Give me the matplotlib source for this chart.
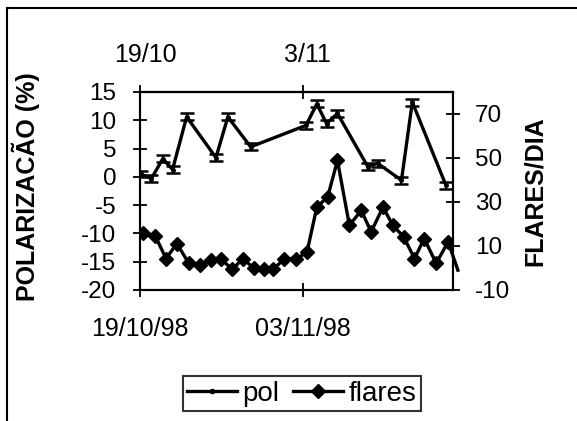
import numpy as np
import matplotlib
matplotlib.use('Agg')
import matplotlib.pyplot as plt
from matplotlib.lines import Line2D
import matplotlib.transforms as mtransforms

plt.rcParams['font.family'] = ['Liberation Sans', 'DejaVu Sans']
plt.rcParams['axes.unicode_minus'] = False

# dias contados a partir de 19/10/98
pol_dia = [0.05, 1.05, 2.1, 3.0, 4.3, 7.0, 8.1, 10.2, 15.3, 16.3, 17.2, 18.2, 21.0, 21.9, 24.1, 25.1, 28.2]
pol = [0.5, -0.3, 3.2, 1.3, 10.6, 3.4, 10.6, 5.3, 9.1, 12.9, 9.4, 11.2, 1.8, 2.4, -0.6, 13.2, -1.5]
pol_err = [0.6] * len(pol)

flares_dia = [0.3, 1.4, 2.4, 3.4, 4.5, 5.5, 6.5, 7.5, 8.5, 9.5, 10.5, 11.4, 12.3, 13.3, 14.4,
              15.4, 16.3, 17.3, 18.2, 19.3, 20.4, 21.3, 22.4, 23.3, 24.3, 25.3, 26.2, 27.3, 28.4, 29.3]
flares = [15.7, 14.6, 4.3, 11.1, 2.1, 1.3, 3.6, 3.9, -0.6, 4.3, -0.2, -0.6, -0.6, 4.3, 3.9,
          7.4, 27.7, 32.3, 48.9, 19.4, 26.2, 16.4, 27.7, 19.4, 14.2, 4.3, 13.4, 2.1, 11.9, -1.0]

xticks = [0, 15]
xlabels_baixo = ['19/10/98', '03/11/98']
xlabels_cima = ['19/10', '3/11']
xpos_cima = [0.5, 15.4]  # rotulos de cima um pouco deslocados no original
yticks_pol = [15, 10, 5, 0, -5, -10, -15, -20]
yticks_flares = [70, 50, 30, 10, -10]

fig = plt.figure(figsize=(5.77, 4.21), dpi=100)
ax = fig.add_axes([140/577, 1-290/421, 313/577, 198/421])
ax2 = ax.twinx()

# pol com barras de erro
ax.errorbar(pol_dia, pol, yerr=pol_err, color='black', lw=2.4, marker='o', ms=2.5,
            capsize=5, capthick=1.8, elinewidth=1.5, label='pol', zorder=3)

# flares (ultimo ponto fica fora do eixo, so a linha)
n = len(flares) - 1
ax2.plot(flares_dia[:n], flares[:n], color='black', lw=2.4, marker='D', ms=6.8, label='flares')
ax2.plot(flares_dia[n-1:], flares[n-1:], color='black', lw=2.4, clip_on=False)

ax.set_xlim(0, 28.85)
ax.set_ylim(-20, 15)
ax2.set_ylim(-10, 80)
ax.set_yticks(yticks_pol)
ax2.set_yticks(yticks_flares)
ax.set_xticks(xticks)
ax.set_xticklabels(xlabels_baixo)

secx = ax.secondary_xaxis('top')
secx.set_xticks(xticks)
secx.set_xticklabels(['', ''])
secx.tick_params(direction='inout', length=10, width=1.3)
secx.spines['top'].set_linewidth(1.5)
trans = mtransforms.blended_transform_factory(ax.transData, ax.transAxes)
for xp, lab in zip(xpos_cima, xlabels_cima):
    ax.text(xp, 1.152, lab, transform=trans, ha='center', va='baseline', fontsize=18)

ax.tick_params(axis='x', direction='inout', length=10, width=1.3, pad=14.5, labelsize=18)
ax.tick_params(axis='y', direction='inout', length=10, width=1.3, pad=12, labelsize=17.5)
ax2.tick_params(axis='y', direction='inout', length=10, width=1.3, pad=11, labelsize=17.5)
for a in (ax, ax2):
    for s in a.spines.values():
        s.set_linewidth(1.5)

ax.set_ylabel('POLARIZACÃO (%)', fontsize=18, fontweight='bold')
ax.yaxis.set_label_coords(-0.32, 0.52)
ax2.set_ylabel('FLARES/DIA', fontsize=18, fontweight='bold')
ax2.yaxis.set_label_coords(1.224, 0.5)

h2, l2 = ax2.get_legend_handles_labels()
leg_pol = Line2D([], [], color='black', lw=2.4, marker='o', ms=3)
leg = fig.legend([leg_pol, h2[0]], ['pol', 'flares'], loc='center', bbox_to_anchor=(0.523, 0.065),
                 ncol=2, fontsize=20, frameon=True, fancybox=False, edgecolor='black',
                 handlelength=1.8, handletextpad=0.2, columnspacing=0.5, borderpad=0.15,
                 borderaxespad=0)
leg.get_frame().set_linewidth(1.5)

# moldura da area do grafico (so topo e esquerda aparecem)
fig.add_artist(Line2D([7/577, 1], [1-8/421, 1-8/421], color='black', lw=1.5))
fig.add_artist(Line2D([7/577, 7/577], [0, 1-8/421], color='black', lw=1.5))

fig.savefig('out.png', dpi=100)
